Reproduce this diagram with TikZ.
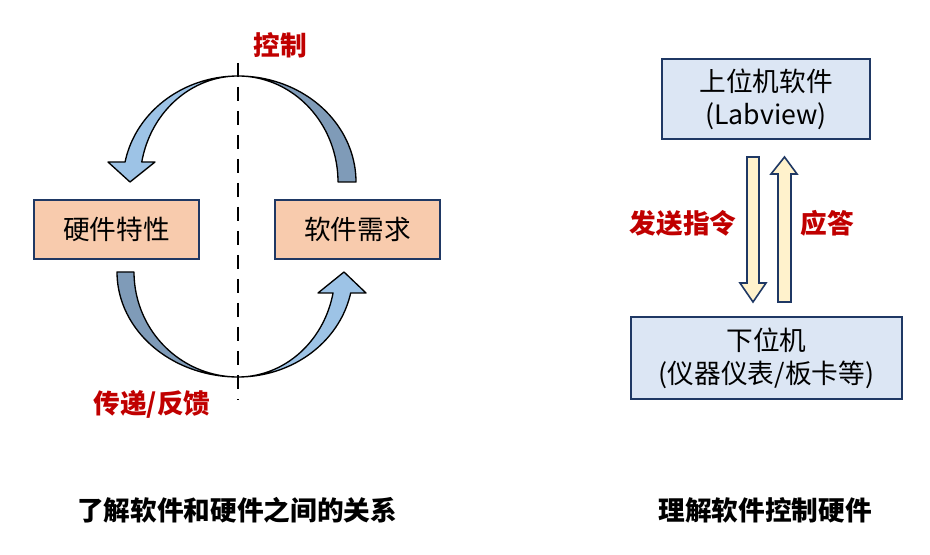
\documentclass[tikz,border=0pt]{standalone}
\usepackage{fontspec}
\setmainfont{Noto Sans CJK SC}
\usetikzlibrary{positioning}
\definecolor{peach}{HTML}{F8CBAD}
\definecolor{navy}{HTML}{1F3864}
\definecolor{paleblue}{HTML}{DCE6F4}
\definecolor{skyarc}{HTML}{9DC3E6}
\definecolor{slatearc}{HTML}{7F9BB8}
\definecolor{cream}{HTML}{FFF2CC}
\definecolor{darkred}{HTML}{C00000}

\begin{document}
\begin{tikzpicture}[
    x=0.75pt, y=-0.75pt,
    box/.style={draw=navy, line width=1.5pt, inner sep=0pt, align=center,
                font=\fontsize{20}{25}\selectfont},
    lbl/.style={text=darkred, font=\fontsize{20}{24}\selectfont\bfseries},
    captiontext/.style={font=\fontsize{20}{24}\selectfont\bfseries},
    band/.style={draw=black, line width=1pt, line join=round},
    blk/.style={draw=navy, line width=1.2pt, fill=cream}
]
\useasboundingbox (0,0) rectangle (930,555);

% left part: hardware <-> software loop
\node[box, fill=peach, minimum width=123.75pt, minimum height=44.25pt]
  (hw) at (116.5,229.5) {硬件特性};
\node[box, fill=peach, minimum width=123.75pt, minimum height=44.25pt]
  (sw) at (357.5,229.5) {软件需求};

% upper half: control
\filldraw[band, fill=skyarc]
  plot[domain=270:190.9, samples=40] ({238+115*cos(\x)},{182+106*sin(\x)})
  -- (108,162) -- (130,182) -- (155,162)
  -- plot[domain=190.9:270, samples=40] ({238+98*cos(\x)},{182+106*sin(\x)})
  -- cycle;
\filldraw[band, fill=slatearc]
  plot[domain=270:360, samples=40] ({238+118*cos(\x)},{182+106*sin(\x)})
  -- plot[domain=360:270, samples=40] ({238+100*cos(\x)},{182+106*sin(\x)})
  -- cycle;

% lower half: feedback
\filldraw[band, fill=slatearc]
  plot[domain=180:90, samples=40] ({238+121*cos(\x)},{272+105*sin(\x)})
  -- plot[domain=90:180, samples=40] ({238+104*cos(\x)},{272+105*sin(\x)})
  -- cycle;
\filldraw[band, fill=skyarc]
  plot[domain=90:11.5, samples=40] ({238+115*cos(\x)},{272+105*sin(\x)})
  -- (366,293) -- (344,272) -- (318,293)
  -- plot[domain=11.5:90, samples=40] ({238+97*cos(\x)},{272+105*sin(\x)})
  -- cycle;

\coordinate (axtop) at (238,63);
\coordinate (axbot) at (238,400);
\draw[line width=2.2pt, dash pattern=on 10.5pt off 7.5pt] (axtop) -- (axbot);

\node[lbl] (ctrl) at (280,45) {控制};
\node[lbl] (fb) at (152,404) {传递/反馈};
\node[captiontext] (capl) at (237,510) {了解软件和硬件之间的关系};

% right part: host and slave
\node[box, fill=paleblue, minimum width=156pt, minimum height=60pt]
  (host) at (766,99) {上位机软件\\(Labview)};
\node[box, fill=paleblue, minimum width=203.25pt, minimum height=61.5pt]
  (slave) at (766.5,358) {下位机\\(仪器仪表/板卡等)};

\filldraw[blk] (747,157) -- (759,157) -- (759,283) -- (766,283) -- (753,302)
  -- (740,283) -- (747,283) -- cycle;
\filldraw[blk] (778,302) -- (791,302) -- (791,174) -- (797,174) -- (784.5,157)
  -- (771,174) -- (778,174) -- cycle;

\node[lbl] (send) at (683,223) {发送指令};
\node[lbl] (ack) at (827,223) {应答};
\node[captiontext] (capr) at (765,510) {理解软件控制硬件};
\end{tikzpicture}
\end{document}
